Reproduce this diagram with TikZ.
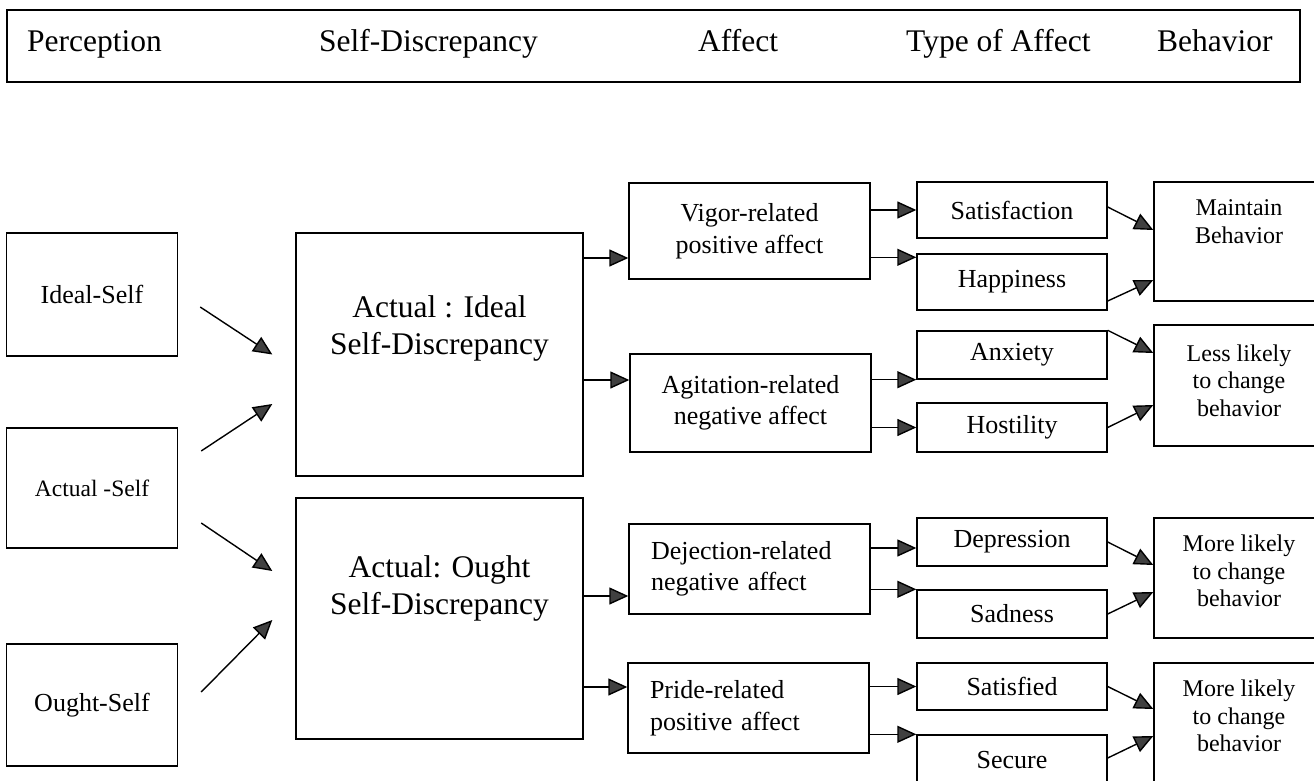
\documentclass[tikz,border=0pt]{standalone}
\usepackage{fontspec}
\setmainfont{Liberation Serif}
\usetikzlibrary{arrows.meta,positioning,calc}

\newcommand\fsHead{\fontsize{31.5}{38}\selectfont}
\newcommand\fsBig{\fontsize{31.5}{37}\selectfont}
\newcommand\fsMid{\fontsize{26}{31.5}\selectfont}
\newcommand\fsSelf{\fontsize{23.5}{28}\selectfont}
\newcommand\fsBeh{\fontsize{24}{27.5}\selectfont}

\begin{document}
\begin{tikzpicture}[x=1pt,y=-1pt,>={Triangle[length=19pt,width=17pt,fill=black!75]},
    box/.style={draw,line width=1.4pt,inner sep=0pt,align=center},
    selfbox/.style={box,minimum width=171pt},
    discbox/.style={box,minimum width=287pt},
    affbox/.style={box,minimum width=241pt,font=\fsMid},
    typebox/.style={box,minimum width=190pt,font=\fsMid},
    behbox/.style={box,minimum width=170pt},
    txt/.style={inner sep=0pt,align=center},
    arr/.style={->,line width=1.4pt}]
  \clip (0,0) rectangle (1314,781);

  % header row
  \node[draw,line width=1.4pt,minimum width=1293pt,minimum height=72pt] (head) at (653.5,46) {};
  \node[txt,anchor=base west,font=\fsHead] (hperc) at (27,52) {Perception};
  \node[txt,anchor=base west,font=\fsHead] (hdisc) at (319,52) {Self-Discrepancy};
  \node[txt,anchor=base west,font=\fsHead] (haff) at (698,52) {Affect};
  \node[txt,anchor=base west,font=\fsHead] (htype) at (906,52) {Type of Affect};
  \node[txt,anchor=base west,font=\fsHead] (hbeh) at (1157,52) {Behavior};

  % perception
  \node[selfbox,minimum height=123pt,font=\fsMid] (ideal) at (92,294.5) {Ideal-Self};
  \node[selfbox,minimum height=120pt,font=\fsSelf] (actual) at (92,488) {Actual -Self};
  \node[selfbox,minimum height=122pt,font=\fsMid] (ought) at (92,705) {Ought-Self};

  % self-discrepancy
  \node[discbox,minimum height=243pt] (ai) at (439.5,354.5) {};
  \node[txt,anchor=north,font=\fsBig] (aitxt) at ([yshift=-63pt]ai.north) {Actual : Ideal\\Self-Discrepancy};
  \node[discbox,minimum height=241pt] (ao) at (439.5,618.5) {};
  \node[txt,anchor=north,font=\fsBig] (aotxt) at ([yshift=-58pt]ao.north) {Actual: Ought\\Self-Discrepancy};

  % affect
  \node[affbox,minimum height=96pt] (vig) at (749.5,231) {Vigor-related\\positive affect};
  \node[affbox,minimum height=98pt] (agi) at (750.5,403) {Agitation-related\\negative affect};
  \node[affbox,minimum height=90pt,text width=197pt,inner xsep=22pt,align=left] (dej) at (749.5,569) {Dejection-related\\negative affect};
  \node[affbox,minimum height=90pt,text width=197pt,inner xsep=22pt,align=left] (pri) at (748.5,708) {Pride-related\\positive affect};

  % type of affect
  \node[typebox,minimum height=56pt] (sat) at (1012,210) {Satisfaction};
  \node[typebox,minimum height=56pt] (hap) at (1012,282) {Happiness};
  \node[typebox,minimum height=48pt] (anx) at (1012,355) {Anxiety};
  \node[typebox,minimum height=49pt] (hos) at (1012,427.5) {Hostility};
  \node[typebox,minimum height=48pt] (dep) at (1012,542) {Depression};
  \node[typebox,minimum height=48pt] (sad) at (1012,614) {Sadness};
  \node[typebox,minimum height=47pt] (sfd) at (1012,686.5) {Satisfied};
  \node[typebox,minimum height=50pt] (sec) at (1012,760) {Secure};

  % behavior
  \node[behbox,minimum height=119pt] (main) at (1239,241.5) {};
  \node[txt,font=\fsBeh] (maintxt) at ([yshift=20pt]main.center) {Maintain\\Behavior};
  \node[behbox,minimum height=121pt] (less) at (1239,385.5) {};
  \node[txt,font=\fsBeh] (lesstxt) at ([yshift=5pt]less.center) {Less likely\\to change\\behavior};
  \node[behbox,minimum height=120pt] (moreA) at (1239,578) {};
  \node[txt,font=\fsBeh] (moreAtxt) at ([yshift=7pt]moreA.center) {More likely\\to change\\behavior};
  \node[behbox,minimum height=120pt] (moreB) at (1239,723) {};
  \node[txt,font=\fsBeh] (moreBtxt) at ([yshift=7pt]moreB.center) {More likely\\to change\\behavior};

  % perception -> discrepancy
  \draw[arr] ([xshift=22pt,yshift=-12.5pt]ideal.east) -- ([xshift=-23pt]ai.west);
  \draw[arr] ([xshift=23pt,yshift=37pt]actual.east) -- ([xshift=-23pt,yshift=-49.5pt]ai.west);
  \draw[arr] ([xshift=23pt,yshift=-35pt]actual.east) -- ([xshift=-23pt,yshift=47.5pt]ao.west);
  \draw[arr] ([xshift=23pt,yshift=13pt]ought.east) -- ([xshift=-23pt,yshift=-1.5pt]ao.west);

  % discrepancy -> affect
  \coordinate (vigin) at ([yshift=-27pt]vig.west);
  \coordinate (agiin) at ([yshift=23pt]agi.west);
  \coordinate (dejin) at ([yshift=-27pt]dej.west);
  \coordinate (priin) at ([yshift=21pt]pri.west);
  \draw[arr] (ai.east |- vigin) -- (vigin);
  \draw[arr] (ai.east |- agiin) -- (agiin);
  \draw[arr] (ao.east |- dejin) -- (dejin);
  \draw[arr] (ao.east |- priin) -- (priin);

  % affect -> type of affect
  \coordinate (hapin) at ([yshift=-4pt]hap.north west);
  \coordinate (depin) at ([yshift=-6pt]dep.west);
  \draw[arr] (vig.east |- sat.west) -- (sat.west);
  \draw[arr] (vig.east |- hapin) -- (hapin);
  \draw[arr] (agi.east |- anx.south west) -- (anx.south west);
  \draw[arr] (agi.east |- hos.west) -- (hos.west);
  \draw[arr] (dej.east |- depin) -- (depin);
  \draw[arr] (dej.east |- sad.north west) -- (sad.north west);
  \draw[arr] (pri.east |- sfd.west) -- (sfd.west);
  \draw[arr] (pri.east |- sec.north west) -- (sec.north west);

  % type of affect -> behavior
  \draw[arr] ([yshift=3pt]sat.east) -- ([yshift=11.5pt]main.west);
  \draw[arr] ([yshift=-19pt]hap.east) -- ([yshift=-38.5pt]main.west);
  \draw[arr] (anx.north east) -- ([yshift=32.5pt]less.west);
  \draw[arr] (hos.east) -- ([yshift=-19.5pt]less.west);
  \draw[arr] (dep.east) -- ([yshift=13pt]moreA.west);
  \draw[arr] (sad.east) -- ([yshift=-14pt]moreA.west);
  \draw[arr] (sfd.east) -- ([yshift=14pt]moreB.west);
  \draw[arr] ([yshift=2pt]sec.east) -- ([yshift=-13pt]moreB.west);
\end{tikzpicture}
\end{document}
